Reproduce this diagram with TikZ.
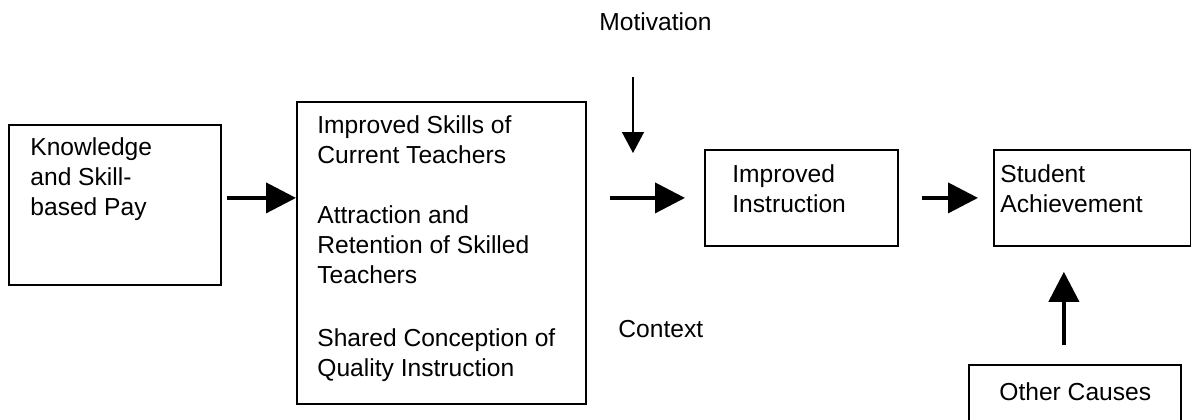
\documentclass[tikz,border=0pt]{standalone}
\usepackage{fontspec}
\setmainfont{Liberation Sans}
\usetikzlibrary{
    arrows.meta,
    calc,
    positioning
}
\tikzset{
    every picture/.style = {
        x = 0.5pt,
        y = -0.5pt
    },
    box/.style = {
        draw,
        line width = 0.9pt,
        anchor = north west,
        inner sep = 0pt
    },
    box text/.style = {
        anchor = base west,
        inner sep = 0pt,
        align = left,
        font = \fontsize{12.3}{15}\selectfont
    },
    fat arrow/.style = {
        -{Triangle[length = 15pt, width = 15pt]},
        line width = 2pt
    },
    thin arrow/.style = {
        -{Triangle[length = 10.5pt, width = 11pt]},
        line width = 0.8pt
    }
}

\begin{document}
\begin{tikzpicture}
    \useasboundingbox (0, 0) rectangle (1191, 419);
    % boxes
    \node[box, minimum width = 106pt, minimum height = 80pt] (pay) at (8, 124) {};
    \node[box, minimum width = 144.5pt, minimum height = 151pt] (skills) at (296, 101) {};
    \node[box, minimum width = 96.5pt, minimum height = 48pt] (instr) at (704, 149) {};
    \node[box, minimum width = 98.5pt, minimum height = 48pt] (achieve) at (993, 149) {};
    \node[box, minimum width = 106pt, minimum height = 40pt] (causes) at (968, 364) {};
    % texts (base = last line)
    \node[box text] (paytext) at (30, 215) {Knowledge\\and Skill-\\based Pay};
    \node[box text] (skillstext) at (317, 376) {Improved Skills of\\Current Teachers\\[15pt]Attraction and\\Retention of Skilled\\Teachers\\[16.5pt]Shared Conception of\\Quality Instruction};
    \node[box text] (instrtext) at (732, 212) {Improved\\Instruction};
    \node[box text] (achievetext) at (1000, 212) {Student\\Achievement};
    \node[box text] (causestext) at (999, 400) {Other Causes};
    \node[box text] (motiv) at (599, 30) {Motivation};
    \node[box text] (context) at (618, 337) {Context};
    % arrows
    \coordinate (mtop) at (633, 77);
    \coordinate (mbot) at (633, 153);
    \draw[thin arrow] (mtop) -- (mbot);
    \draw[fat arrow, shorten <= 2.5pt] (pay.east |- instr.west) -- (skills.west |- instr.west);
    \draw[fat arrow, shorten <= 11.5pt, shorten >= 9.5pt] (skills.east |- instr.west) -- (instr.west);
    \draw[fat arrow, shorten <= 11.5pt, shorten >= 7.5pt] (instr.east) -- (achieve.west);
    \draw[fat arrow, shorten <= 9.5pt, shorten >= 12.5pt] ([xshift = -5.5pt]causes.north) -- ([xshift = -5.5pt]causes.north |- achieve.south);
\end{tikzpicture}
\end{document}
